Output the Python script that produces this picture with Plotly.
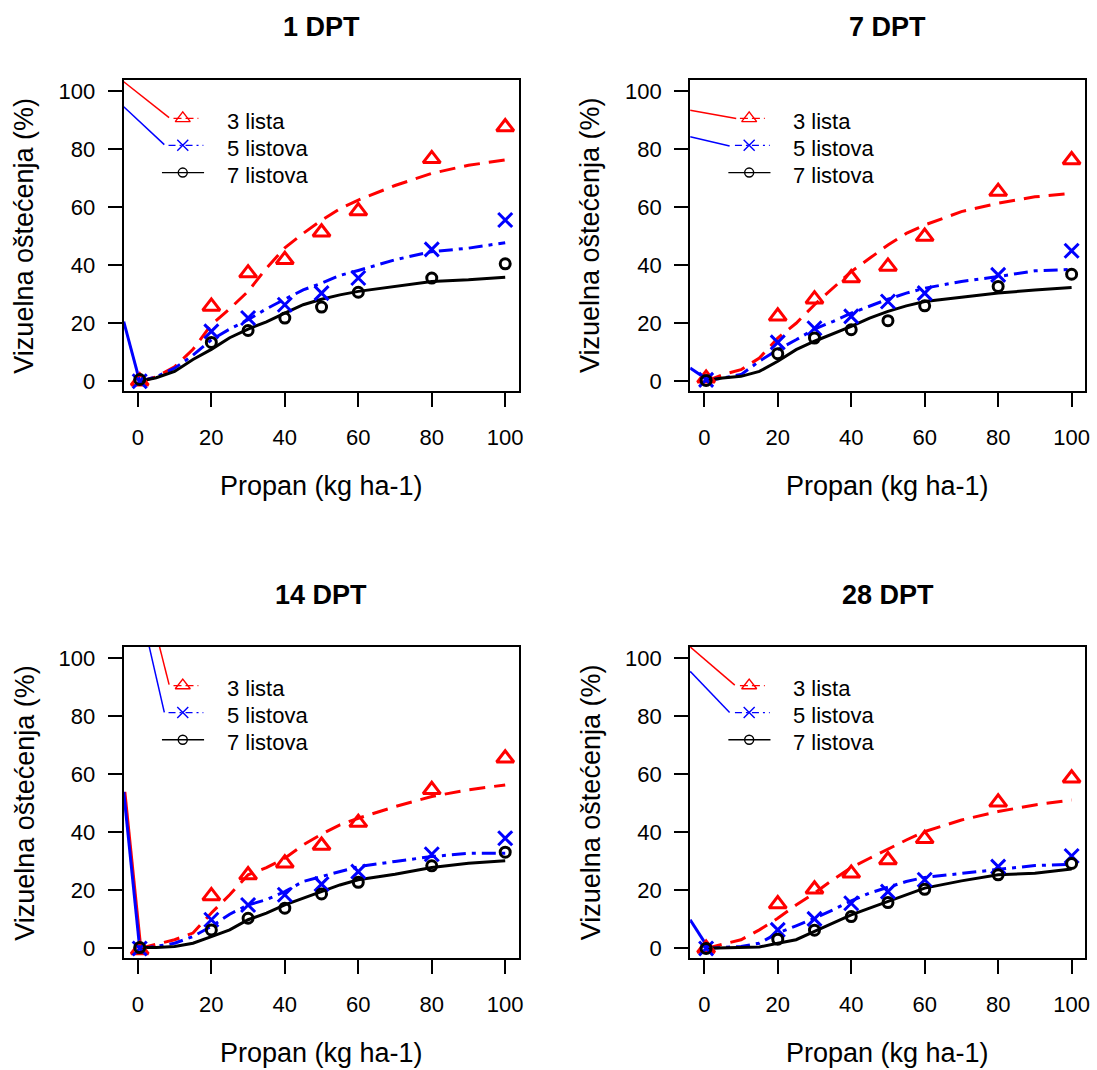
import plotly.graph_objects as go

W, H = 1097, 1070
FONT = "Liberation Sans, Arial, sans-serif"

# ---------------- data ----------------
panel_titles = ["1 DPT", "7 DPT", "14 DPT", "28 DPT"]
series_names = ["3 lista", "5 listova", "7 listova"]
x_ticks = [0, 20, 40, 60, 80, 100]
y_ticks = [0, 20, 40, 60, 80, 100]

doses = [0.5, 20, 30, 40, 50, 60, 80, 100]
curve_x = [0.5, 5, 10, 15, 20, 25, 30, 35, 40, 45, 50, 55, 60, 70, 80, 90, 100]

# observed points (red = 3 lista, blue = 5 listova, black = 7 listova)
obs_1dpt_3 = [0, 25.8, 37.3, 41.9, 51.4, 58.7, 76.7, 87.7]
obs_1dpt_5 = [0, 17.2, 21.8, 26.4, 30.4, 35.6, 45.5, 55.6]
obs_1dpt_7 = [0.6, 13.4, 17.5, 21.8, 25.6, 30.7, 35.6, 40.5]
obs_7dpt_3 = [1, 22.4, 28.3, 35.6, 39.6, 49.9, 65.4, 76.3]
obs_7dpt_5 = [0.5, 13.4, 18.3, 22.4, 27.5, 30.4, 36.7, 45]
obs_7dpt_7 = [0.3, 9.5, 14.9, 17.8, 20.9, 26, 32.7, 36.9]
obs_14dpt_3 = [-0.5, 18.1, 25.3, 29.4, 35.5, 43.4, 54.7, 65.6]
obs_14dpt_5 = [0, 9.9, 15, 18.5, 22.2, 26.5, 32.5, 38]
obs_14dpt_7 = [0.3, 6.4, 10.4, 13.9, 18.8, 22.8, 28.5, 33.2]
obs_28dpt_3 = [0, 15.3, 20.4, 25.9, 30.5, 37.8, 50.4, 58.7]
obs_28dpt_5 = [0, 6.4, 10.2, 15.6, 19.6, 23.7, 28.2, 31.9]
obs_28dpt_7 = [0, 3.2, 6.3, 11, 15.8, 20.4, 25.4, 29.3]

# fitted curves
fit_1dpt_3 = [0, 1.5, 5, 11, 19.5, 25, 31, 39, 46, 51, 55.5, 59.5, 62.5, 67.5, 71.7, 74.5, 76.3]
fit_1dpt_5 = [0, 1.5, 4.5, 9, 14.3, 18, 21.2, 25, 28.3, 31.5, 33.8, 36.5, 38.2, 41.9, 44.7, 45.9, 47.8]
fit_1dpt_7 = [0, 1.2, 3.4, 7.5, 11, 15, 18, 20.5, 23.5, 26.4, 28.3, 29.8, 31, 32.7, 34.4, 35, 35.9]
fit_7dpt_3 = [0, 2.3, 4, 8, 14.9, 20, 26.4, 32.1, 37.8, 42.4, 47, 51, 53.9, 58.5, 61.4, 63.6, 64.8]
fit_7dpt_5 = [0.3, 1.1, 2.3, 6.9, 10.9, 14.3, 18, 20.6, 23.5, 26, 28.3, 30.4, 32.1, 34.4, 36.1, 38.1, 38.6]
fit_7dpt_7 = [0.3, 1.1, 1.7, 3.4, 6.9, 10.9, 13.8, 16.4, 18.9, 21.8, 24.1, 26, 27.5, 29, 30.4, 31.5, 32.3]
fit_14dpt_3 = [0, 1.5, 3, 5.3, 12.2, 18.5, 25.4, 27.9, 31.1, 35.7, 39.4, 42.6, 44.9, 48.9, 52.4, 54.7, 56.4]
fit_14dpt_5 = [0, 0.7, 1.8, 4.1, 7.6, 11.8, 15, 16.8, 19.6, 23.1, 24.8, 26.5, 28.2, 30, 31.7, 32.8, 32.8]
fit_14dpt_7 = [0.3, 0.3, 0.7, 1.8, 4.1, 6.4, 9.9, 12.2, 15, 17.3, 19.6, 21.9, 23.7, 25.6, 27.9, 29.4, 30.2]
fit_28dpt_3 = [0, 1.3, 3, 6.4, 10.4, 15, 19.1, 23.7, 27.9, 31.1, 34.3, 37.4, 40.3, 44.3, 47.2, 49.5, 51.2]
fit_28dpt_5 = [0, 0.3, 0.7, 1.8, 5.3, 7.8, 10.4, 13.3, 16.4, 19.1, 21, 23.1, 24.5, 25.9, 27.4, 28.6, 29]
fit_28dpt_7 = [0.1, 0.3, 0.5, 0.5, 1.8, 3, 5.9, 8.7, 11.6, 13.9, 16.2, 18.5, 20.8, 23.3, 25.4, 25.9, 27.4]

# stray curve segments visible in the original figure (thin leader lines and thick left-edge pieces)
stray_thin_3_x = [[-3.85, 8.5], [-3.85, 8.7], [5.9, 8.5], [-3.85, 8.3]]
stray_thin_3_y = [[103.3, 90.9], [93.5, 90.6], [104.0, 91.0], [104.0, 90.8]]
stray_thin_5_x = [[-3.85, 7.2], [-3.85, 6.9], [3.1, 7.2], [-3.85, 6.9]]
stray_thin_5_y = [[94.7, 81.6], [84.3, 81.1], [104.0, 81.4], [95.6, 81.4]]
stray_thick_x = [[-3.85, 0.5], [-3.85, 0.8], [-3.85, 0.5], [-3.85, 0.8]]
stray_thick_y = [[20.6, 0], [4.6, 0.6], [54.0, 0], [9.9, 0.7]]
stray_thick_red = [False, False, True, False]

obs = [[obs_1dpt_3, obs_1dpt_5, obs_1dpt_7], [obs_7dpt_3, obs_7dpt_5, obs_7dpt_7],
       [obs_14dpt_3, obs_14dpt_5, obs_14dpt_7], [obs_28dpt_3, obs_28dpt_5, obs_28dpt_7]]
fits = [[fit_1dpt_3, fit_1dpt_5, fit_1dpt_7], [fit_7dpt_3, fit_7dpt_5, fit_7dpt_7],
        [fit_14dpt_3, fit_14dpt_5, fit_14dpt_7], [fit_28dpt_3, fit_28dpt_5, fit_28dpt_7]]

# ---------------- styles ----------------
colors = ["#FF0000", "#0000FF", "#000000"]
dashes = ["16px,9px", "14px,6px,4px,6px", "solid"]
leg_dashes = ["8px,4px", "7px,4px,2px,4px", "solid"]
symbols = ["triangle-up-open", "x-thin-open", "circle-open"]
sizes = [15, 14, 10]
leg_sizes = [13, 11, 9]

# plot boxes in pixels: (left, right, top, bottom)
boxes = [(124.3, 521.0, 79.0, 391.7), (693.3, 1090.0, 79.0, 391.7),
         (124.3, 521.0, 648.3, 961.0), (693.3, 1090.0, 648.3, 961.0)]
X_RANGE = [-3.85, 103.65]
Y_RANGE = [-3.44, 104.0]

fig = go.Figure()
layout = dict(width=W, height=H, autosize=False,
              margin=dict(l=0, r=0, t=0, b=0),
              paper_bgcolor="white", plot_bgcolor="rgba(0,0,0,0)",
              showlegend=False, font=dict(family=FONT, color="black"))
annotations = []

for i in range(4):
    L, R, T, B = boxes[i]
    xa = "xaxis" if i == 0 else f"xaxis{i+1}"
    ya = "yaxis" if i == 0 else f"yaxis{i+1}"
    xr = "x" if i == 0 else f"x{i+1}"
    yr = "y" if i == 0 else f"y{i+1}"
    layout[xa] = dict(domain=[L / W, R / W], anchor=yr, range=X_RANGE,
                      tickvals=x_ticks, ticks="outside", ticklen=14, tickwidth=1.8,
                      tickcolor="black", showline=True, mirror=True, linecolor="black",
                      linewidth=2, showgrid=False, zeroline=False,
                      tickfont=dict(size=22, family=FONT, color="black"),
                      ticklabelstandoff=11)
    layout[ya] = dict(domain=[1 - B / H, 1 - T / H], anchor=xr, range=Y_RANGE,
                      tickvals=y_ticks, ticks="outside", ticklen=14, tickwidth=1.8,
                      tickcolor="black", showline=True, mirror=True, linecolor="black",
                      linewidth=2, showgrid=False, zeroline=False,
                      tickfont=dict(size=22, family=FONT, color="black"),
                      ticklabelstandoff=8)

    # stray segments
    fig.add_trace(go.Scatter(x=stray_thin_3_x[i], y=stray_thin_3_y[i], mode="lines",
                             line=dict(color=colors[0], width=1.5), xaxis=xr, yaxis=yr,
                             hoverinfo="skip"))
    fig.add_trace(go.Scatter(x=stray_thin_5_x[i], y=stray_thin_5_y[i], mode="lines",
                             line=dict(color=colors[1], width=1.5), xaxis=xr, yaxis=yr,
                             hoverinfo="skip"))
    if stray_thick_red[i]:
        fig.add_trace(go.Scatter(x=[v + 0.3 for v in stray_thick_x[i]], y=stray_thick_y[i],
                                 mode="lines", line=dict(color=colors[0], width=3),
                                 xaxis=xr, yaxis=yr, hoverinfo="skip"))
    fig.add_trace(go.Scatter(x=stray_thick_x[i], y=stray_thick_y[i], mode="lines",
                             line=dict(color=colors[1], width=3), xaxis=xr, yaxis=yr,
                             hoverinfo="skip"))

    # fitted curves then points
    for s in range(3):
        fig.add_trace(go.Scatter(x=curve_x, y=fits[i][s], mode="lines",
                                 line=dict(color=colors[s], width=3, dash=dashes[s]),
                                 xaxis=xr, yaxis=yr, name=series_names[s]))
    for s in range(3):
        fig.add_trace(go.Scatter(x=doses, y=obs[i][s], mode="markers",
                                 marker=dict(symbol=symbols[s], size=sizes[s],
                                             color=colors[s],
                                             line=dict(color=colors[s], width=3)),
                                 cliponaxis=False, xaxis=xr, yaxis=yr, name=series_names[s]))

    cx = (L + R) / 2
    cy = (T + B) / 2
    annotations.append(dict(text=f"<b>{panel_titles[i]}</b>", x=cx / W, y=1 - (T - 52.5) / H,
                            xref="paper", yref="paper", showarrow=False,
                            xanchor="center", yanchor="middle",
                            font=dict(size=27, family=FONT, color="black")))
    annotations.append(dict(text="Propan (kg ha-1)", x=cx / W, y=1 - (B + 95) / H,
                            xref="paper", yref="paper", showarrow=False,
                            xanchor="center", yanchor="middle",
                            font=dict(size=27, family=FONT, color="black")))
    annotations.append(dict(text="Vizuelna oštećenja (%)", x=(L - 100) / W, y=1 - cy / H,
                            xref="paper", yref="paper", showarrow=False, textangle=-90,
                            xanchor="center", yanchor="middle",
                            font=dict(size=27, family=FONT, color="black")))

    # legend drawn in pixel overlay
    rows_dy = [38.8, 65.9, 93.2]
    for s in range(3):
        ly = T + rows_dy[s]
        if s == 0:
            lx = [L + 50, L + 75]
        elif s == 1:
            lx = [L + 45, L + 80]
        else:
            lx = [L + 38.4, L + 80.7]
        fig.add_trace(go.Scatter(x=lx, y=[ly, ly], mode="lines",
                                 line=dict(color=colors[s], width=1.3, dash=leg_dashes[s]),
                                 xaxis="x5", yaxis="y5", hoverinfo="skip"))
        fig.add_trace(go.Scatter(x=[L + 59.3], y=[ly], mode="markers",
                                 marker=dict(symbol=symbols[s], size=leg_sizes[s],
                                             color=colors[s],
                                             line=dict(color=colors[s], width=1.4)),
                                 xaxis="x5", yaxis="y5", hoverinfo="skip"))
        annotations.append(dict(text=series_names[s], x=(L + 101.7) / W,
                                y=1 - (ly + 3) / H, xref="paper", yref="paper",
                                showarrow=False, xanchor="left", yanchor="middle",
                                font=dict(size=22, family=FONT, color="black")))

layout["xaxis5"] = dict(domain=[0, 1], range=[0, W], visible=False, anchor="y5", fixedrange=True)
layout["yaxis5"] = dict(domain=[0, 1], range=[H, 0], visible=False, anchor="x5", fixedrange=True)
layout["annotations"] = annotations
fig.update_layout(**layout)

fig.write_html("out.html")
